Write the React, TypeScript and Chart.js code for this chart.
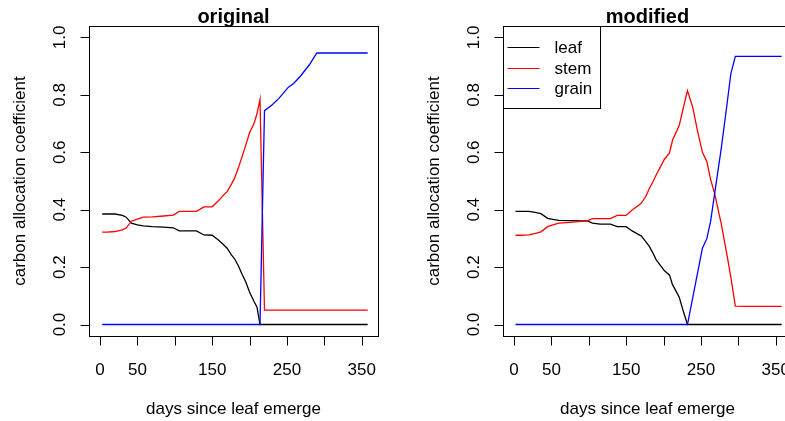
import { useEffect, useRef } from "react";
import { Chart, registerables } from "chart.js";

Chart.register(...registerables);

// ---------- data ----------
const originalDays = [3, 10, 20, 30, 35, 42, 50, 58, 70, 85, 98, 106, 115, 129, 139, 150, 158, 165, 170, 176, 180, 185, 190, 195, 200, 206, 210, 214, 220, 230, 239, 245, 252, 259, 268, 280, 290, 300, 320, 340, 358];
const originalLeaf = [0.385, 0.385, 0.385, 0.38, 0.374, 0.353, 0.347, 0.344, 0.341, 0.339, 0.337, 0.326, 0.326, 0.326, 0.312, 0.311, 0.295, 0.279, 0.266, 0.242, 0.229, 0.205, 0.175, 0.148, 0.113, 0.08, 0.06, 0, 0, 0, 0, 0, 0, 0, 0, 0, 0, 0, 0, 0, 0];
const originalStem = [0.322, 0.322, 0.324, 0.33, 0.336, 0.36, 0.367, 0.374, 0.375, 0.378, 0.381, 0.394, 0.394, 0.394, 0.41, 0.41, 0.43, 0.45, 0.463, 0.49, 0.51, 0.545, 0.585, 0.625, 0.668, 0.7, 0.735, 0.784, 0.05, 0.05, 0.05, 0.05, 0.05, 0.05, 0.05, 0.05, 0.05, 0.05, 0.05, 0.05, 0.05];
const originalGrain = [0, 0, 0, 0, 0, 0, 0, 0, 0, 0, 0, 0, 0, 0, 0, 0, 0, 0, 0, 0, 0, 0, 0, 0, 0, 0, 0, 0, 0.745, 0.765, 0.787, 0.805, 0.827, 0.84, 0.865, 0.905, 0.946, 0.946, 0.946, 0.946, 0.946];

const modifiedDays = [2, 10, 20, 30, 36, 45, 52, 60, 75, 90, 98, 105, 115, 129, 138, 150, 158, 165, 170, 176, 181, 186, 190, 196, 201, 208, 212, 216, 221, 226, 232, 239, 245, 252, 258, 263, 268, 277, 285, 290, 296, 310, 330, 358];
const modifiedLeaf = [0.394, 0.394, 0.394, 0.39, 0.386, 0.37, 0.366, 0.363, 0.362, 0.361, 0.361, 0.353, 0.35, 0.35, 0.341, 0.341, 0.326, 0.316, 0.309, 0.29, 0.272, 0.248, 0.226, 0.205, 0.188, 0.172, 0.139, 0.12, 0.095, 0.05, 0, 0, 0, 0, 0, 0, 0, 0, 0, 0, 0, 0, 0, 0];
const modifiedStem = [0.311, 0.311, 0.312, 0.318, 0.323, 0.341, 0.347, 0.353, 0.356, 0.359, 0.361, 0.369, 0.369, 0.369, 0.38, 0.38, 0.399, 0.412, 0.422, 0.445, 0.474, 0.498, 0.52, 0.55, 0.575, 0.598, 0.642, 0.665, 0.694, 0.75, 0.815, 0.757, 0.68, 0.6, 0.567, 0.505, 0.46, 0.353, 0.24, 0.165, 0.064, 0.063, 0.063, 0.063];
const modifiedGrain = [0, 0, 0, 0, 0, 0, 0, 0, 0, 0, 0, 0, 0, 0, 0, 0, 0, 0, 0, 0, 0, 0, 0, 0, 0, 0, 0, 0, 0, 0, 0, 0.093, 0.173, 0.266, 0.3, 0.36, 0.45, 0.61, 0.77, 0.873, 0.934, 0.934, 0.934, 0.934];

const seriesNames = ["leaf", "stem", "grain"];
const seriesColors = ["#000000", "#FF0000", "#0000FF"];
const panelTitles = ["original", "modified"];
const xTitle = "days since leaf emerge";
const yTitle = "carbon allocation coefficient";
const yTicks = [0, 0.2, 0.4, 0.6, 0.8, 1.0];
const yTickLabels = ["0.0", "0.2", "0.4", "0.6", "0.8", "1.0"];
const xTicks = [0, 50, 100, 150, 200, 250, 300, 350];
const xTickLabels = ["0", "50", "", "150", "", "250", "", "350"];

const FONT = "'Liberation Sans', Arial, Helvetica, sans-serif";
const PANEL_W = 414;
const PANEL_H = 421;

function makeRPlot(title: string, showLegend: boolean) {
  return {
    id: "rStyle",
    afterDraw(chart: any) {
      const ctx = chart.ctx as CanvasRenderingContext2D;
      const { left, top, right, bottom } = chart.chartArea;
      const xs = chart.scales.x;
      const ys = chart.scales.y;
      const L = Math.round(left) + 0.5;
      const T = Math.round(top) + 0.5;
      const R = Math.round(right) + 0.5;
      const B = Math.round(bottom) + 0.5;
      ctx.save();
      ctx.strokeStyle = "#000";
      ctx.fillStyle = "#000";
      ctx.lineWidth = 1;
      // box
      ctx.strokeRect(L, T, R - L, B - T);
      // y axis
      ctx.beginPath();
      ctx.moveTo(L, ys.getPixelForValue(yTicks[0]));
      ctx.lineTo(L, ys.getPixelForValue(yTicks[yTicks.length - 1]));
      yTicks.forEach((v) => {
        const py = Math.round(ys.getPixelForValue(v)) + 0.5;
        ctx.moveTo(L, py);
        ctx.lineTo(L - 9, py);
      });
      // x axis
      ctx.moveTo(xs.getPixelForValue(xTicks[0]), B);
      ctx.lineTo(xs.getPixelForValue(xTicks[xTicks.length - 1]), B);
      xTicks.forEach((v) => {
        const px = Math.round(xs.getPixelForValue(v)) + 0.5;
        ctx.moveTo(px, B);
        ctx.lineTo(px, B + 9);
      });
      ctx.stroke();

      ctx.font = `17px ${FONT}`;
      ctx.textAlign = "center";
      ctx.textBaseline = "alphabetic";
      // y tick labels (rotated)
      yTicks.forEach((v, i) => {
        const py = ys.getPixelForValue(v);
        ctx.save();
        ctx.translate(65, py);
        ctx.rotate(-Math.PI / 2);
        ctx.fillText(yTickLabels[i], 0, 0);
        ctx.restore();
      });
      // x tick labels
      xTicks.forEach((v, i) => {
        if (!xTickLabels[i]) return;
        ctx.fillText(xTickLabels[i], xs.getPixelForValue(v), 375);
      });
      // axis titles
      const cx = (left + right) / 2;
      const cy = (top + bottom) / 2;
      ctx.fillText(xTitle, cx, 413.5);
      ctx.save();
      ctx.translate(25, cy);
      ctx.rotate(-Math.PI / 2);
      ctx.fillText(yTitle, 0, 0);
      ctx.restore();
      // main title
      ctx.font = `bold 20px ${FONT}`;
      ctx.fillText(title, cx, 22.5);

      if (showLegend) {
        const w = 97;
        const h = 82;
        ctx.fillStyle = "#fff";
        ctx.fillRect(L, T, w, h);
        ctx.strokeStyle = "#000";
        ctx.strokeRect(L, T, w, h);
        const rows = [21, 41.5, 62];
        ctx.font = `17px ${FONT}`;
        ctx.textAlign = "left";
        seriesNames.forEach((name, i) => {
          const ry = Math.round(top + rows[i]) + 0.5;
          ctx.strokeStyle = seriesColors[i];
          ctx.lineWidth = 1.2;
          ctx.beginPath();
          ctx.moveTo(L + 4, ry);
          ctx.lineTo(L + 36, ry);
          ctx.stroke();
          ctx.fillStyle = "#000";
          ctx.fillText(name, L + 51, ry + 5);
        });
      }
      ctx.restore();
    },
  };
}

function Panel(props: { days: number[]; series: number[][]; title: string; legend: boolean; x: number }) {
  const ref = useRef<HTMLCanvasElement | null>(null);
  useEffect(() => {
    if (!ref.current) return;
    const chart = new Chart(ref.current, {
      type: "line",
      data: {
        datasets: props.series.map((vals, i) => ({
          label: seriesNames[i],
          data: props.days.map((d, j) => ({ x: d, y: vals[j] })),
          borderColor: seriesColors[i],
          backgroundColor: seriesColors[i],
          borderWidth: 1.3,
          pointRadius: 0,
          tension: 0,
          fill: false,
          order: 3 - i,
        })),
      },
      options: {
        animation: false,
        responsive: false,
        events: [],
        layout: { padding: { left: 89.3, right: PANEL_W - 377.7, top: 26, bottom: PANEL_H - 336 } },
        scales: {
          x: { type: "linear", display: false, min: -14.3, max: 371.4 },
          y: { type: "linear", display: false, min: -0.04, max: 1.04 },
        },
        plugins: { legend: { display: false }, tooltip: { enabled: false }, title: { display: false } },
      },
      plugins: [makeRPlot(props.title, props.legend)],
    } as any);
    return () => chart.destroy();
  }, []);
  return (
    <div style={{ position: "absolute", left: props.x, top: 0, width: PANEL_W, height: PANEL_H }}>
      <canvas ref={ref} width={PANEL_W} height={PANEL_H} style={{ width: PANEL_W, height: PANEL_H, display: "block" }} />
    </div>
  );
}

export default function App() {
  return (
    <div style={{ position: "fixed", left: 0, top: 0, width: 785, height: 421, overflow: "hidden", background: "#fff" }}>
      <Panel days={originalDays} series={[originalLeaf, originalStem, originalGrain]} title={panelTitles[0]} legend={false} x={0} />
      <Panel days={modifiedDays} series={[modifiedLeaf, modifiedStem, modifiedGrain]} title={panelTitles[1]} legend={true} x={PANEL_W} />
    </div>
  );
}
